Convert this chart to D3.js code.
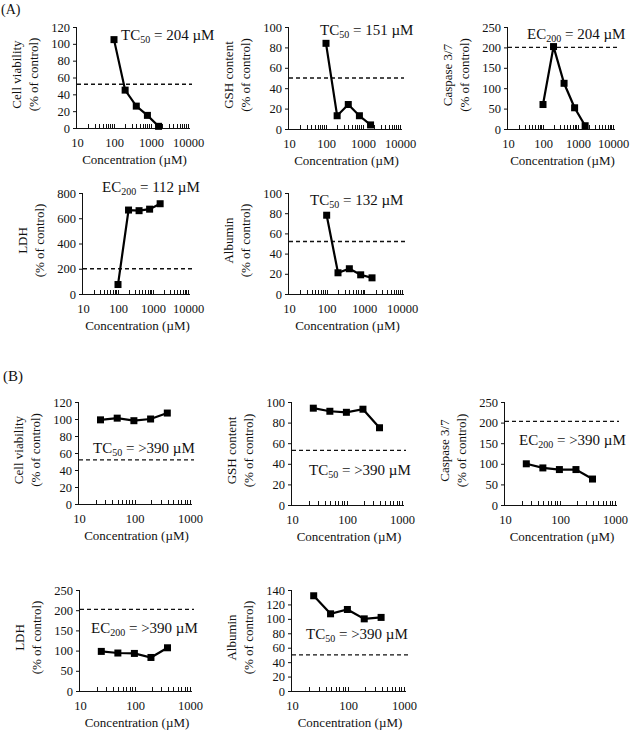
<!DOCTYPE html>
<html>
<head>
<meta charset="utf-8">
<script src="https://cdn.jsdelivr.net/npm/d3@7"></script>
<style>
  html, body { margin: 0; padding: 0; background: #fff; }
  svg { display: block; }
  svg text { font-family: "Liberation Serif", "DejaVu Serif", serif !important; fill: #111; }
</style>
</head>
<body>
<svg id="chart" width="638" height="745"></svg>
<script>
// ---------- DATA ----------
const concA = [100, 200, 400, 800, 1600];
const concB = [24.4, 48.8, 97.5, 195, 390];

const A_viability = [105, 45, 26, 15, 2];
const A_gsh       = [84, 13, 24, 13, 4];
const A_caspase   = [60, 202, 112, 52, 8];
const A_ldh       = [75, 665, 660, 672, 715];
const A_albumin   = [78, 21, 25, 19, 16];

const B_viability = [99, 101, 98, 100, 107];
const B_gsh       = [94, 91, 90, 93, 75];
const B_caspase   = [100, 90, 86, 86, 63];
const B_ldh       = [98, 94, 93, 83, 107];
const B_albumin   = [132, 107, 113, 100, 102];

// threshold (dashed) lines as drawn
const thresholds = [52, 50, 200, 200, 52, 52, 53, 203, 202, 50];

const xTicksA = [10, 100, 1000, 10000];
const xTicksB = [10, 100, 1000];
const yTicks100 = [0, 20, 40, 60, 80, 100];
const yTicks120 = [0, 20, 40, 60, 80, 100, 120];
const yTicks140 = [0, 20, 40, 60, 80, 100, 120, 140];
const yTicks250 = [0, 50, 100, 150, 200, 250];
const yTicks800 = [0, 200, 400, 600, 800];

const yTitles = {
  via: ["Cell viability", "(% of control)"],
  gsh: ["GSH content", "(% of control)"],
  cas: ["Caspase 3/7", "(% of control)"],
  ldh: ["LDH", "(% of control)"],
  alb: ["Albumin", "(% of control)"]
};
const xTitle = "Concentration (\u00b5M)";

const annotations = [
  ["TC", "50", " = 204 \u00b5M"],
  ["TC", "50", " = 151 \u00b5M"],
  ["EC", "200", " = 204 \u00b5M"],
  ["EC", "200", " = 112 \u00b5M"],
  ["TC", "50", " = 132 \u00b5M"],
  ["TC", "50", " = >390 \u00b5M"],
  ["TC", "50", " = >390 \u00b5M"],
  ["EC", "200", " = >390 \u00b5M"],
  ["EC", "200", " = >390 \u00b5M"],
  ["TC", "50", " = >390 \u00b5M"]
];

// ---------- LAYOUT ----------
const panels = [
  {conc: concA, vals: A_viability, yt: yTicks120, xt: xTicksA, title: yTitles.via, box: [77, 188, 27, 128],  ann: [121, 40]},
  {conc: concA, vals: A_gsh,       yt: yTicks100, xt: xTicksA, title: yTitles.gsh, box: [289, 400, 27, 129], ann: [320, 35]},
  {conc: concA, vals: A_caspase,   yt: yTicks250, xt: xTicksA, title: yTitles.cas, box: [508, 613, 27, 129], ann: [527, 39]},
  {conc: concA, vals: A_ldh,       yt: yTicks800, xt: xTicksA, title: yTitles.ldh, box: [83, 188, 193, 294], ann: [102, 192]},
  {conc: concA, vals: A_albumin,   yt: yTicks100, xt: xTicksA, title: yTitles.alb, box: [289, 402, 193, 294],ann: [310, 205]},
  {conc: concB, vals: B_viability, yt: yTicks120, xt: xTicksB, title: yTitles.via, box: [79, 190, 402, 504], ann: [93, 453]},
  {conc: concB, vals: B_gsh,       yt: yTicks100, xt: xTicksB, title: yTitles.gsh, box: [292, 402, 402, 505],ann: [309, 475]},
  {conc: concB, vals: B_caspase,   yt: yTicks250, xt: xTicksB, title: yTitles.cas, box: [505, 615, 402, 505],ann: [519, 445]},
  {conc: concB, vals: B_ldh,       yt: yTicks250, xt: xTicksB, title: yTitles.ldh, box: [80, 190, 590, 691], ann: [91, 633]},
  {conc: concB, vals: B_albumin,   yt: yTicks140, xt: xTicksB, title: yTitles.alb, box: [292, 404, 590, 691],ann: [306, 639]}
];

const SERIF = "'Liberation Serif', 'DejaVu Serif', serif";
const svg = d3.select("#chart");

// panel labels
svg.append("text").attr("x", 1).attr("y", 14).attr("font-size", 14).style("font-family", SERIF).text("(A)");
svg.append("text").attr("x", 3).attr("y", 381).attr("font-size", 15).style("font-family", SERIF).text("(B)");

panels.forEach((p, i) => {
  const [x0, x1, yTop, yBot] = p.box;
  const xMax = p.xt[p.xt.length - 1];
  const x = d3.scaleLog().domain([10, xMax]).range([x0, x1]);
  const yMax = p.yt[p.yt.length - 1];
  const y = d3.scaleLinear().domain([0, yMax]).range([yBot, yTop]);
  const g = svg.append("g").style("font-family", SERIF);

  // y axis
  const ya = g.append("g").attr("transform", `translate(${x0},0)`)
    .call(d3.axisLeft(y).tickValues(p.yt).tickSize(4).tickPadding(3).tickFormat(d3.format("d")));
  ya.attr("font-family", null).attr("font-size", null);
  ya.select(".domain").attr("stroke", "#111").attr("stroke-width", 1).attr("d", `M-0.5,${yBot}V${yTop}`);
  ya.selectAll(".tick line").attr("stroke", "#111");
  ya.selectAll(".tick text").attr("font-size", 12.5).style("font-family", SERIF).attr("fill", "#111");

  // x axis (labels only, line)
  const xa = g.append("g").attr("transform", `translate(0,${yBot})`)
    .call(d3.axisBottom(x).tickValues(p.xt).tickSize(0).tickPadding(10).tickFormat(d3.format("d")));
  xa.attr("font-family", null).attr("font-size", null);
  xa.select(".domain").attr("stroke", "#111").attr("stroke-width", 1).attr("d", `M${x0 - 0.5},0.5H${x1 + 2}`);
  xa.selectAll(".tick text").attr("font-size", 12.5).style("font-family", SERIF).attr("fill", "#111");

  // minor inside ticks on log axis
  const minor = [];
  for (let dec = 10; dec < xMax; dec *= 10) {
    for (let k = 2; k <= 10; k++) minor.push(dec * k);
  }
  g.append("g").selectAll("line").data(minor).join("line")
    .attr("x1", d => Math.round(x(d)) + 0.5).attr("x2", d => Math.round(x(d)) + 0.5)
    .attr("y1", yBot).attr("y2", yBot - 4)
    .attr("stroke", "#111").attr("stroke-width", 1);

  // x title
  g.append("text").attr("x", (x0 + x1) / 2 + 2).attr("y", yBot + 36)
    .attr("text-anchor", "middle").attr("font-size", 13).style("font-family", SERIF).text(xTitle);

  // y title (two lines, rotated)
  const cy = (yTop + yBot) / 2 - 3;
  p.title.forEach((t, j) => {
    g.append("text")
      .attr("transform", `translate(${x0 - 56 + j * 17},${cy}) rotate(-90)`)
      .attr("text-anchor", "middle").attr("font-size", 13).style("font-family", SERIF).text(t);
  });

  // dashed threshold line
  g.append("line")
    .attr("x1", x0).attr("x2", x1 + 4)
    .attr("y1", y(thresholds[i])).attr("y2", y(thresholds[i]))
    .attr("stroke", "#111").attr("stroke-width", 1.3).attr("stroke-dasharray", "4,3");

  // data line
  const pts = p.conc.map((c, k) => [c, p.vals[k]]);
  g.append("path").datum(pts)
    .attr("d", d3.line().x(d => x(d[0])).y(d => y(d[1])))
    .attr("fill", "none").attr("stroke", "#000").attr("stroke-width", 2.2);
  g.append("g").selectAll("rect").data(pts).join("rect")
    .attr("x", d => x(d[0]) - 3.5).attr("y", d => y(d[1]) - 3.5)
    .attr("width", 7).attr("height", 7).attr("fill", "#000");

  // annotation
  const a = annotations[i];
  const t = g.append("text").attr("x", p.ann[0]).attr("y", p.ann[1]).attr("font-size", 15).style("font-family", SERIF);
  t.append("tspan").text(a[0]);
  t.append("tspan").attr("font-size", 10).attr("dy", 3).text(a[1]);
  t.append("tspan").attr("dy", -3).text(a[2]);
});
</script>
</body>
</html>
